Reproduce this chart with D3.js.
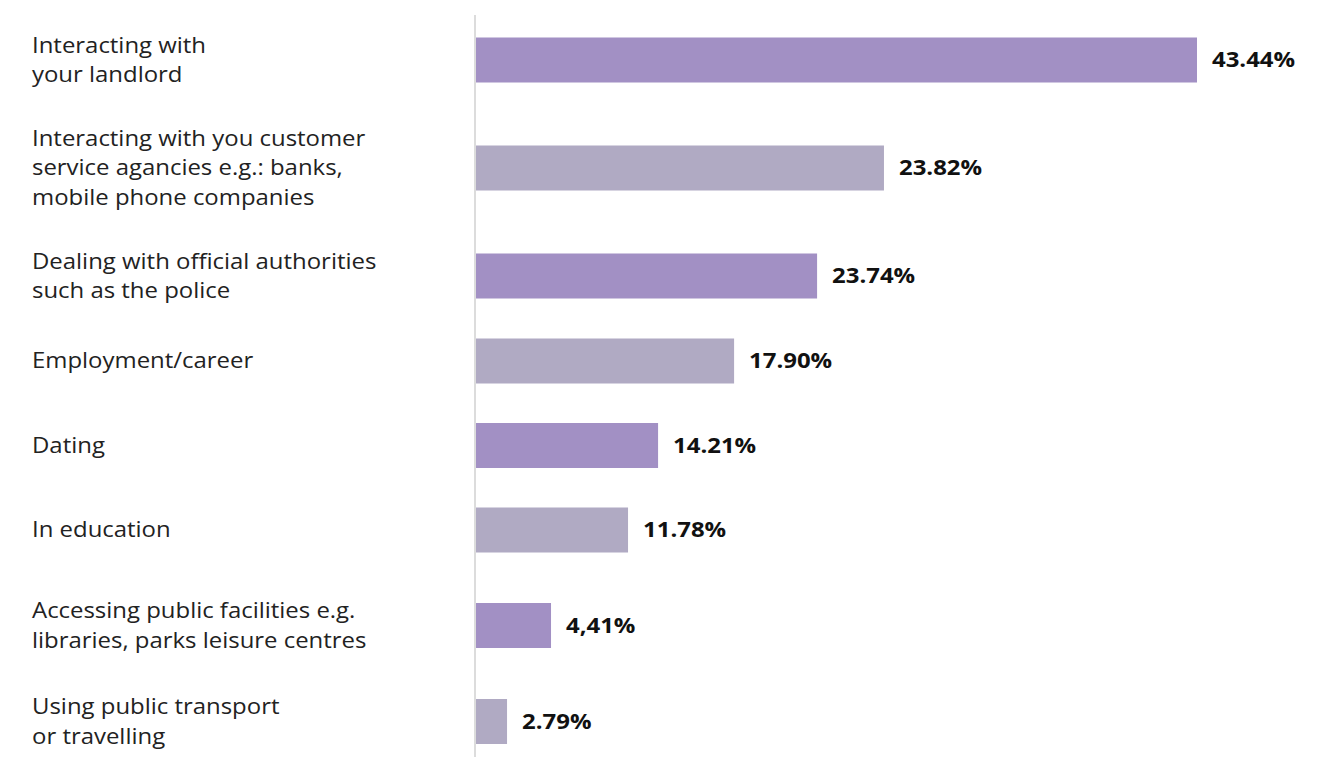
<!DOCTYPE html>
<html>
<head>
<meta charset="utf-8">
<script src="https://cdn.jsdelivr.net/npm/d3@7"></script>
<style>
  body { margin: 0; background: #fff; }
  text { font-family: "Open Sans", sans-serif; }
</style>
</head>
<body>
<div id="chart"></div>
<script>
// カテゴリ（改行は \n）
const categories = [
  "Interacting with\nyour landlord",
  "Interacting with you customer\nservice agancies e.g.: banks,\nmobile phone companies",
  "Dealing with official authorities\nsuch as the police",
  "Employment/career",
  "Dating",
  "In education",
  "Accessing public facilities e.g.\nlibraries, parks leisure centres",
  "Using public transport\nor travelling"
];
// 表示されているラベル
const valueLabels = ["43.44%", "23.82%", "23.74%", "17.90%", "14.21%", "11.78%", "4,41%", "2.79%"];
// 元図のバーの長さ（ラベルと比例していないので図から読んだ値）
const drawnPct = [43.44, 24.58, 20.55, 15.55, 10.97, 9.16, 4.52, 1.87];

const width = 1329;
const height = 757;
const svg = d3.select("#chart").append("svg")
    .attr("width", width)
    .attr("height", height);

const x0 = 476;
const x = d3.scaleLinear().domain([0, 43.44]).range([x0, 1197]);

// 行の上下の余白は行数で変わる
const padTop = {1: 42.5, 2: 53.5, 3: 65.5};
const padBottom = {1: 42, 2: 42.5, 3: 54.5};
const lines = categories.map(c => c.split("\n"));
const centers = [];
let c = 0;
lines.forEach((l, i) => {
    if (i > 0) c += padBottom[lines[i - 1].length] + padTop[l.length];
    centers.push(c);
});
const y = d3.scaleLinear().domain([0, 1]).range([60, 61]);
const barH = 45;
const colors = ["#a290c4", "#b0aac3"];
const stretch = 1.14; // 元図は横に少し伸びている

// 軸線
svg.append("line")
    .attr("x1", x0 - 1).attr("x2", x0 - 1)
    .attr("y1", 15).attr("y2", height)
    .attr("stroke", "#dcdcdc")
    .attr("stroke-width", 2);

// バー
svg.selectAll("rect.bar")
    .data(drawnPct)
    .enter().append("rect")
    .attr("class", "bar")
    .attr("x", x(0))
    .attr("y", (d, i) => y(0) + centers[i] - barH / 2)
    .attr("width", d => x(d) - x(0))
    .attr("height", barH)
    .attr("fill", (d, i) => colors[i % 2]);

// 値ラベル
svg.selectAll("text.val")
    .data(drawnPct)
    .enter().append("text")
    .attr("class", "val")
    .attr("transform", (d, i) => `translate(${x(d) + 15},${y(0) + centers[i]}) scale(${stretch},1)`)
    .attr("dy", "0.35em")
    .attr("font-size", "21px")
    .attr("font-weight", "bold")
    .attr("fill", "#111")
    .text((d, i) => valueLabels[i]);

// カテゴリラベル
const lineH = 29.5;
const labels = svg.selectAll("text.cat")
    .data(lines)
    .enter().append("text")
    .attr("class", "cat")
    .attr("transform", (d, i) => `translate(32,${y(0) + centers[i] - (d.length - 1) * lineH / 2}) scale(${stretch},1)`)
    .attr("font-size", "21px")
    .attr("fill", "#222");
labels.selectAll("tspan")
    .data(d => d)
    .enter().append("tspan")
    .attr("x", 0)
    .attr("dy", (d, j) => j === 0 ? "0.35em" : lineH)
    .text(d => d);
</script>
</body>
</html>
